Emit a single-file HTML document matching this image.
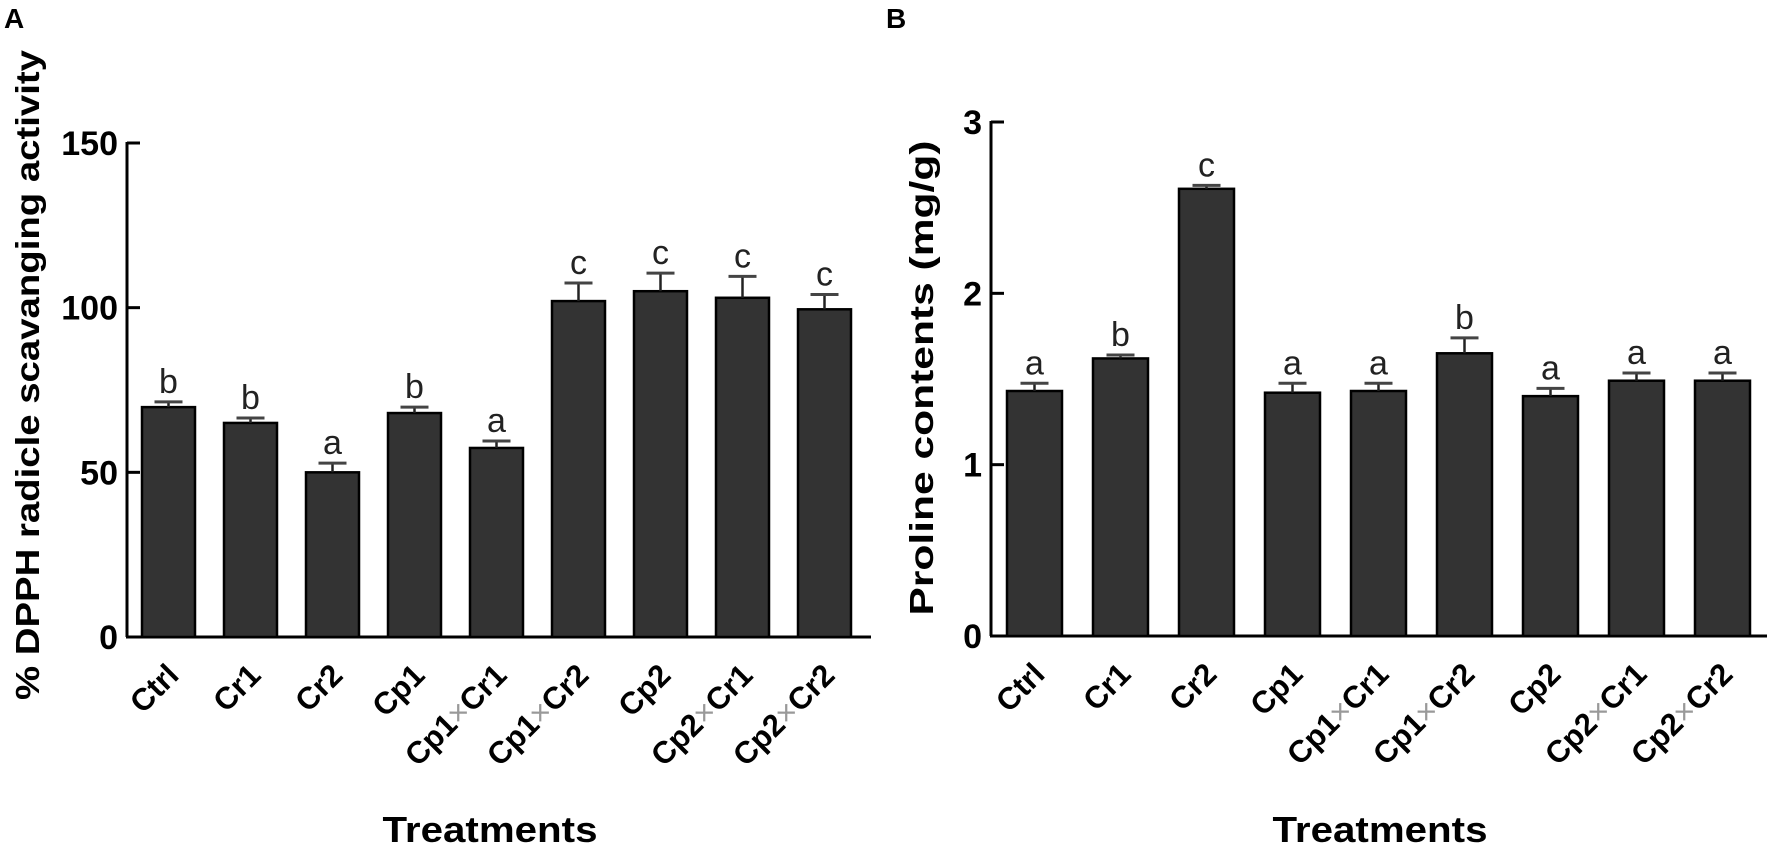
<!DOCTYPE html>
<html><head><meta charset="utf-8"><style>
html,body{margin:0;padding:0;background:#fff;}
svg{display:block;font-family:"Liberation Sans",Arial,sans-serif;}
</style></head><body>
<svg id="chart" width="1772" height="852" viewBox="0 0 1772 852">
<text x="4" y="28" font-size="28" font-weight="bold">A</text>
<text x="886" y="28" font-size="28" font-weight="bold">B</text>
<text transform="translate(39,375) rotate(-90)" text-anchor="middle" font-size="33" font-weight="bold" textLength="650" lengthAdjust="spacingAndGlyphs">% DPPH radicle scavanging activity</text>
<text transform="translate(933,378) rotate(-90)" text-anchor="middle" font-size="33" font-weight="bold" textLength="475" lengthAdjust="spacingAndGlyphs">Proline contents (mg/g)</text>
<text x="490" y="842" text-anchor="middle" font-size="36" font-weight="bold" textLength="215" lengthAdjust="spacingAndGlyphs">Treatments</text>
<text x="1380" y="842" text-anchor="middle" font-size="36" font-weight="bold" textLength="215" lengthAdjust="spacingAndGlyphs">Treatments</text>
</svg>
<script>
const categories = ["Ctrl","Cr1","Cr2","Cp1","Cp1×Cr1","Cp1×Cr2","Cp2","Cp2×Cr1","Cp2×Cr2"];
const dpphValues = [69.8, 65, 50, 68, 57.4, 102, 105, 103, 99.5];
const dpphErrors = [1.6, 1.5, 2.8, 1.8, 2.1, 5.5, 5.5, 6.5, 4.5];
const dpphLetters = ["b","b","a","b","a","c","c","c","c"];
const dpphTicks = [0, 50, 100, 150];
const prolineValues = [1.43, 1.62, 2.61, 1.42, 1.43, 1.65, 1.40, 1.49, 1.49];
const prolineErrors = [0.045, 0.02, 0.02, 0.055, 0.045, 0.09, 0.045, 0.045, 0.045];
const prolineLetters = ["a","b","c","a","a","b","a","a","a"];
const prolineTicks = [0, 1, 2, 3];

const NS = "http://www.w3.org/2000/svg";
const svg = document.getElementById("chart");
function mk(tag, attrs){ const e=document.createElementNS(NS,tag); for(const k in attrs) e.setAttribute(k,attrs[k]); svg.appendChild(e); return e; }

function drawPanel(p){
  const yS = v => p.y0 - (v - 0) / p.max * (p.y0 - p.yTop);
  const xS = i => p.firstBar + i * p.pitch;
  let e = mk("line",{x1:p.axisX,y1:p.y0,x2:p.axisX,y2:yS(p.max)-1,stroke:"#000","stroke-width":3});
  
  
  e = mk("line",{x1:p.axisX-1,y1:p.y0,x2:p.axisEnd,y2:p.y0,stroke:"#000","stroke-width":3});
  
  
  p.ticks.forEach(t=>{
    const y=yS(t);
    let l = mk("line",{x1:p.axisX,y1:y,x2:p.axisX+13,y2:y,stroke:"#000","stroke-width":3});
    
    
    let tx = mk("text",{x:p.axisX-9,y:y+12,"text-anchor":"end","font-size":34,"font-weight":"bold"});
    tx.textContent = t;
    
    
  });
  categories.forEach((c,i)=>{
    const x=xS(i), top=yS(p.values[i]), et=yS(p.values[i]+p.errors[i]), cx=x+p.bw/2;
    let r = mk("rect",{x:x,y:top,width:p.bw,height:p.y0-top,fill:"#333",stroke:"#000","stroke-width":2.5});
    
    
    let el = mk("line",{x1:cx,y1:top,x2:cx,y2:et,stroke:"#222","stroke-width":2.5});
    
    
    let cap = mk("line",{x1:cx-14,y1:et,x2:cx+14,y2:et,stroke:"#444","stroke-width":3});
    
    
    let lt = mk("text",{x:cx,y:et-9,"text-anchor":"middle","font-size":34,fill:"#222"});
    lt.textContent = p.letters[i];
    
    
    let xl = mk("text",{transform:`translate(${cx+12},${p.y0+40}) rotate(-45)`,"text-anchor":"end","font-size":31,"font-weight":"bold"});
    if(c.indexOf("×")>=0){
      const parts=c.split("×");
      const a=document.createElementNS(NS,"tspan"); a.textContent=parts[0]; xl.appendChild(a);
      const b=document.createElementNS(NS,"tspan"); b.textContent="×"; b.setAttribute("fill","#999"); b.setAttribute("font-weight","normal"); xl.appendChild(b);
      const d=document.createElementNS(NS,"tspan"); d.textContent=parts[1]; xl.appendChild(d);
    } else xl.textContent=c;
    
    
  });
}
drawPanel({id:"panel-a",values:dpphValues,errors:dpphErrors,letters:dpphLetters,ticks:dpphTicks,max:150,
  axisX:127,axisEnd:871,y0:637,yTop:143,firstBar:142,pitch:82,bw:53});
drawPanel({id:"panel-b",values:prolineValues,errors:prolineErrors,letters:prolineLetters,ticks:prolineTicks,max:3,
  axisX:991,axisEnd:1767,y0:636,yTop:122,firstBar:1007,pitch:86,bw:55});
</script>
</body></html>
